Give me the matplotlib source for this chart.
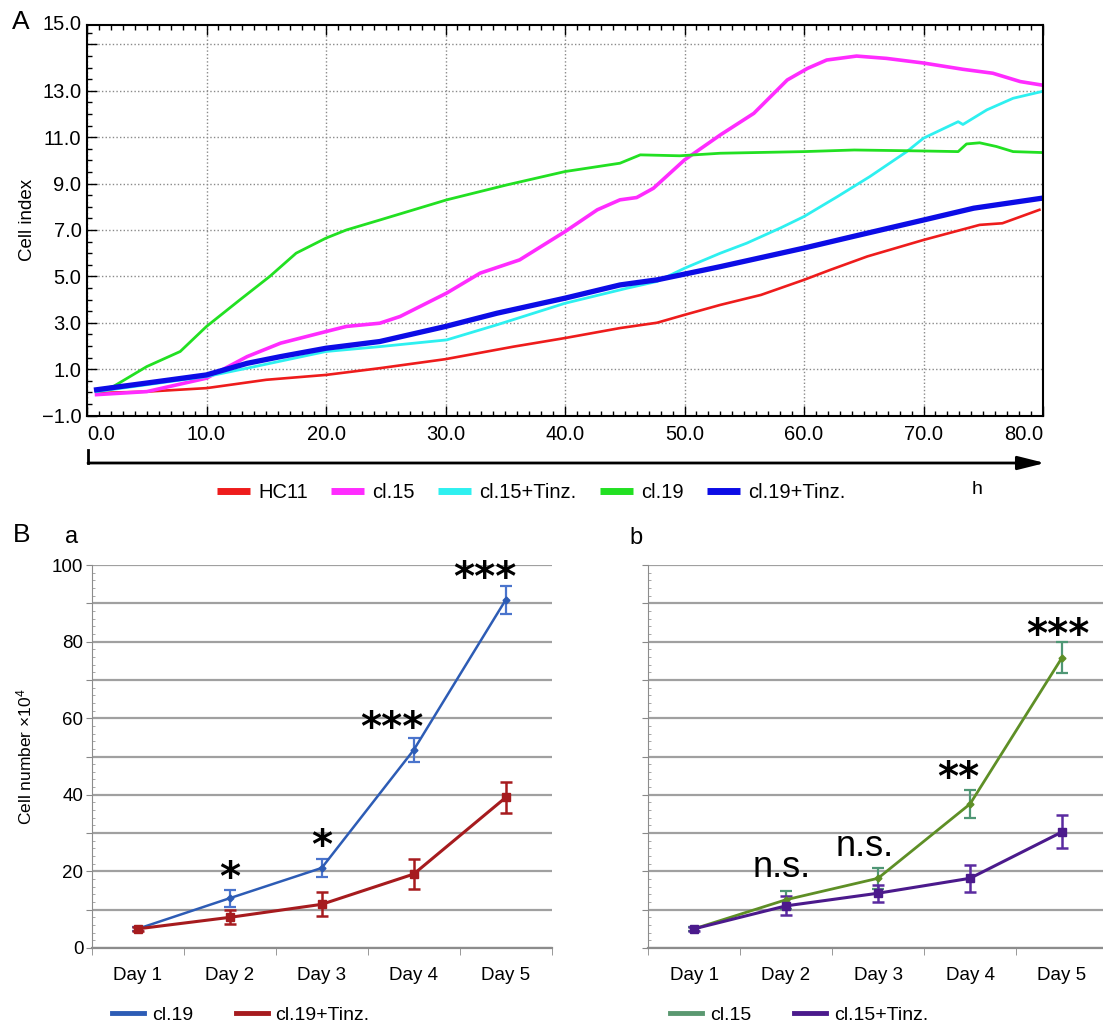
import matplotlib.pyplot as plt
from matplotlib.lines import Line2D
from matplotlib.patches import FancyArrowPatch
from matplotlib.ticker import MultipleLocator, FixedLocator, FixedFormatter

plt.rcParams['font.family'] = ['Liberation Sans', 'DejaVu Sans']
plt.rcParams['mathtext.default'] = 'regular'

W, H = 1103, 1025

hc11_t = [0.8, 5, 10, 15, 20, 24.5, 30, 35.7, 40, 44.6, 47.7, 50, 53, 56.4, 60, 62.2, 65.3, 70, 74.7, 76.6, 79.7]
hc11_v = [-0.03, 0.03, 0.18, 0.54, 0.75, 1.04, 1.43, 1.97, 2.34, 2.77, 3.0, 3.34, 3.77, 4.2, 4.85, 5.28, 5.86, 6.57, 7.22, 7.29, 7.87]

cl15_t = [0.8, 5, 10, 13.4, 16.2, 20, 21.7, 24.5, 26.2, 30.1, 32.9, 36.2, 40, 42.7, 44.6, 46.0, 47.4, 50, 53, 55.8,
          58.6, 60.3, 61.9, 64.4, 66.9, 70, 73.3, 75.8, 78.1, 79.9]
cl15_v = [-0.1, 0.03, 0.61, 1.54, 2.12, 2.62, 2.84, 2.98, 3.27, 4.28, 5.14, 5.71, 6.93, 7.87, 8.3, 8.4, 8.8, 10.02, 11.1, 12.03,
          13.47, 13.97, 14.33, 14.5, 14.4, 14.2, 13.93, 13.76, 13.4, 13.25]

cl15t_t = [0.8, 10, 13.4, 20, 24.5, 30.1, 34.3, 40, 45.2, 47.7, 50, 53, 55.2, 58, 60, 62.8, 65.5, 68.6, 70, 72.9, 73.3,
           75.3, 77.5, 79.9]
cl15t_v = [0.03, 0.68, 1.04, 1.76, 1.97, 2.26, 2.91, 3.84, 4.49, 4.78, 5.35, 6.0, 6.43, 7.08, 7.58, 8.44, 9.3, 10.38, 10.96,
           11.67, 11.55, 12.18, 12.68, 12.97]

cl19_t = [0.8, 2.2, 5, 7.8, 10, 12.8, 15.3, 17.5, 20, 21.7, 24.5, 30.1, 35.1, 40, 44.6, 46.3, 49.6, 53, 60, 64.2, 69.7,
          72.9, 73.6, 74.7, 76.1, 77.5, 79.9]
cl19_v = [0.1, 0.25, 1.11, 1.76, 2.84, 3.99, 5.0, 6.0, 6.65, 7.0, 7.43, 8.3, 8.94, 9.52, 9.88, 10.24, 10.2, 10.31, 10.38,
          10.45, 10.41, 10.38, 10.71, 10.76, 10.6, 10.38, 10.34]

cl19t_t = [0.8, 5, 10, 13.4, 16.2, 20, 24.5, 30, 34.3, 40, 44.6, 47.7, 53, 60, 64.1, 70, 74.2, 79.9]
cl19t_v = [0.11, 0.4, 0.75, 1.25, 1.54, 1.9, 2.19, 2.84, 3.41, 4.06, 4.63, 4.85, 5.42, 6.22, 6.72, 7.43, 7.94, 8.37]

x_ticks = [0, 10, 20, 30, 40, 50, 60, 70, 80]
x_labels = ['0.0', '10.0', '20.0', '30.0', '40.0', '50.0', '60.0', '70.0', '80.0']
y_ticks = [-1, 1, 3, 5, 7, 9, 11, 13, 15]
y_labels = ['\u22121.0', '1.0', '3.0', '5.0', '7.0', '9.0', '11.0', '13.0', '']

# ---- B: cell counts ----
days = ['Day 1', 'Day 2', 'Day 3', 'Day 4', 'Day 5']
cl19_mean = [5, 13.0, 20.9, 51.7, 90.9]
cl19_err = [0.6, 2.2, 2.4, 3.2, 3.7]
cl19tz_mean = [5, 8.0, 11.4, 19.3, 39.3]
cl19tz_err = [0.6, 1.8, 3.1, 4.0, 4.0]
cl15_mean = [5, 12.6, 18.2, 37.6, 75.8]
cl15_err = [0.5, 2.3, 2.8, 3.6, 4.0]
cl15tz_mean = [5, 11.0, 14.3, 18.2, 30.3]
cl15tz_err = [0.5, 2.5, 2.2, 3.6, 4.3]

fig = plt.figure(figsize=(W / 100, H / 100), dpi=100)

# ================= panel A =================
ax = fig.add_axes([87 / W, 1 - 415.5 / H, (1043 - 87) / W, (415.5 - 25) / H])
ax.plot(hc11_t, hc11_v, color='#ee1c1c', lw=1.9, label='HC11')
ax.plot(cl15_t, cl15_v, color='#ff2cff', lw=2.6, label='cl.15')
ax.plot(cl15t_t, cl15t_v, color='#2ef0f0', lw=2.0, label='cl.15+Tinz.')
ax.plot(cl19_t, cl19_v, color='#22e022', lw=2.0, label='cl.19')
ax.plot(cl19t_t, cl19t_v, color='#0c0ce6', lw=3.8, label='cl.19+Tinz.')

ax.set_xlim(0, 80)
ax.set_ylim(-1, 15.84)
ax.xaxis.set_major_locator(FixedLocator(x_ticks))
ax.xaxis.set_major_formatter(FixedFormatter(x_labels))
ax.xaxis.set_minor_locator(MultipleLocator(1))
ax.yaxis.set_major_locator(FixedLocator(y_ticks))
ax.yaxis.set_major_formatter(FixedFormatter(y_labels))
ax.yaxis.set_minor_locator(MultipleLocator(0.5))
ax.tick_params(which='both', direction='in', top=True, right=False, labelsize=14.5, width=1)
ax.tick_params(which='major', length=7)
ax.tick_params(which='minor', length=3.5)
ax.tick_params(axis='x', pad=7)
ax.tick_params(axis='y', pad=4)
ax.grid(True, which='major', color='#8a8a8a', linestyle=(0, (1, 1.6)), lw=1)
for sp in ax.spines.values():
    sp.set_linewidth(1.5)
tl = ax.get_xticklabels()
tl[0].set_ha('left')
tl[-1].set_ha('right')
ax.text(-0.006, 1.0, '15.0', transform=ax.transAxes, ha='right', va='center', fontsize=14.5)
ax.set_ylabel('Cell index', fontsize=13.5)
ax.yaxis.set_label_coords(-0.053, 0.5)

# time arrow under the plot
y_ar = 1 - 463 / H
fig.add_artist(Line2D([88 / W, 88 / W], [1 - 450 / H, y_ar], transform=fig.transFigure, color='k', lw=2))
fig.add_artist(FancyArrowPatch((88 / W, y_ar), (1045 / W, y_ar), transform=fig.transFigure,
                               arrowstyle='-|>,head_length=1.0,head_width=0.25', mutation_scale=16.5,
                               lw=2, color='k', shrinkA=0, shrinkB=0))
fig.text(977 / W, 1 - 490 / H, 'h', fontsize=14, ha='center', va='center')

hA, lA = ax.get_legend_handles_labels()
legA_handles = [Line2D([], [], color=h.get_color(), lw=5, solid_capstyle='butt') for h in hA]
fig.legend(legA_handles, lA, loc='center left', bbox_to_anchor=(217 / W, 1 - 493 / H), ncol=5, frameon=False,
           fontsize=14.5, handlelength=1.65, handletextpad=0.4, columnspacing=1.15, borderpad=0, borderaxespad=0)

fig.text(21 / W, 1 - 22 / H, 'A', fontsize=19, ha='center', va='center')
fig.text(22 / W, 1 - 535 / H, 'B', fontsize=19, ha='center', va='center')
fig.text(72 / W, 1 - 537 / H, 'a', fontsize=17, ha='center', va='center')
fig.text(636 / W, 1 - 538 / H, 'b', fontsize=17, ha='center', va='center')

# ================= panel B =================
x = list(range(len(days)))
y_ticks_b = [0, 10, 20, 30, 40, 50, 60, 70, 80, 90, 100]
y_labels_b = ['0', '', '20', '', '40', '', '60', '', '80', '', '100']


def style_count_axes(a, show_labels):
    a.set_xlim(-0.5, 4.5)
    a.set_ylim(0, 100)
    a.set_xticks(x)
    a.set_xticklabels(days)
    a.xaxis.set_minor_locator(FixedLocator([-0.5, 0.5, 1.5, 2.5, 3.5, 4.5]))
    a.tick_params(axis='x', which='major', length=0, pad=14, labelsize=13.5)
    a.tick_params(axis='x', which='minor', length=5, direction='out', color='#888888')
    a.yaxis.set_major_locator(FixedLocator(y_ticks_b))
    a.yaxis.set_major_formatter(FixedFormatter(y_labels_b if show_labels else [''] * len(y_ticks_b)))
    a.yaxis.set_minor_locator(MultipleLocator(2))
    a.tick_params(axis='y', which='major', length=4, direction='out', color='#888888', pad=2, labelsize=13.5)
    a.tick_params(axis='y', which='minor', length=2.5, direction='in', color='#999999')
    a.grid(True, axis='y', which='major', color='#a0a0a0', lw=1.6)
    a.set_axisbelow(True)
    for s in ('top', 'right'):
        a.spines[s].set_visible(False)
    a.spines['left'].set_color('#8c8c8c')
    a.spines['bottom'].set_color('#8c8c8c')
    a.spines['bottom'].set_linewidth(1.6)


axa = fig.add_axes([91.7 / W, 1 - 948 / H, 460 / W, (948 - 565) / H])
axa.errorbar(x, cl19_mean, yerr=cl19_err, color='#2d5cb5', ecolor='#4a74cc', lw=1.8, marker='D', ms=3.5,
             capsize=4, elinewidth=1.6, capthick=1.6)
axa.errorbar(x, cl19tz_mean, yerr=cl19tz_err, color='#a61b1e', ecolor='#a61b1e', lw=2.2, marker='s', ms=6,
             capsize=4, elinewidth=1.8, capthick=1.8)
style_count_axes(axa, True)
axa.set_ylabel('Cell number \u00d710$^{4}$', fontsize=12.5)
axa.yaxis.set_label_coords(-0.125, 0.5)

stars_kw = dict(ha='center', va='center', fontsize=29, fontweight='bold', family='DejaVu Sans')
axa.text(1, 18.0, '*', **stars_kw)
axa.text(2, 26.5, '*', **stars_kw)
axa.text(3 - 0.24, 57.1, '***', **stars_kw)
axa.text(4 - 0.23, 96.4, '***', **stars_kw)

axb = fig.add_axes([648 / W, 1 - 948 / H, 460 / W, (948 - 565) / H])
axb.errorbar(x, cl15_mean, yerr=cl15_err, color='#5e8f26', ecolor='#4f9775', lw=2.0, marker='D', ms=3.5,
             capsize=4, elinewidth=1.6, capthick=1.6)
axb.errorbar(x, cl15tz_mean, yerr=cl15tz_err, color='#4b1a8c', ecolor='#5a2aa0', lw=2.2, marker='s', ms=6,
             capsize=4, elinewidth=1.8, capthick=1.8)
style_count_axes(axb, False)
axb.text(1 - 0.05, 20.9, 'n.s.', ha='center', va='center', fontsize=26)
axb.text(2 - 0.15, 26.4, 'n.s.', ha='center', va='center', fontsize=26)
axb.text(3 - 0.13, 44.1, '**', **stars_kw)
axb.text(4 - 0.05, 81.4, '***', **stars_kw)

leg_kw = dict(loc='center left', ncol=2, frameon=False, fontsize=14, handlelength=1.65, handletextpad=0.4,
              columnspacing=2.2, borderpad=0, borderaxespad=0)
fig.legend([Line2D([], [], color='#2d5cb5', lw=3.5), Line2D([], [], color='#a61b1e', lw=3.5)],
           ['cl.19', 'cl.19+Tinz.'], bbox_to_anchor=(112 / W, 1 - 1015 / H), **leg_kw)
fig.legend([Line2D([], [], color='#5a9870', lw=3.5), Line2D([], [], color='#4b1a8c', lw=3.5)],
           ['cl.15', 'cl.15+Tinz.'], bbox_to_anchor=(670 / W, 1 - 1015 / H), **leg_kw)

fig.savefig('out.png', dpi=100)
